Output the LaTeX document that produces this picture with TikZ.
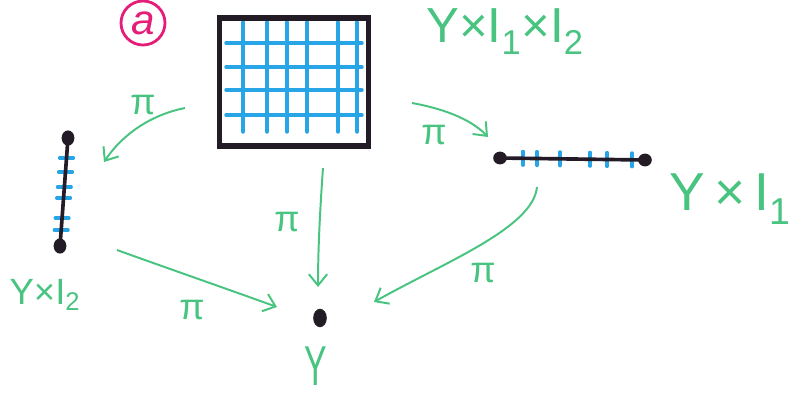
\documentclass[tikz,border=0pt]{standalone}
\usepackage{fontspec}
\setmainfont{Liberation Sans}
\usetikzlibrary{arrows.meta,positioning}
\definecolor{inkgreen}{RGB}{72,196,128}
\definecolor{inkblue}{RGB}{40,165,230}
\definecolor{inkblack}{RGB}{35,28,38}
\definecolor{inkpink}{RGB}{228,30,120}

\begin{document}
\begin{tikzpicture}[x=0.025cm,y=-0.025cm,
    proj/.style={draw=inkgreen,line width=1.4pt,-{Straight Barb[length=8pt,width=13pt,line width=1.4pt]}},
    pilab/.style={text=inkgreen,font=\fontsize{26}{30}\selectfont,inner sep=0pt},
    spacelab/.style={text=inkgreen,inner sep=0pt},
    gridline/.style={draw=inkblue,line width=2.4pt,line cap=round},
    tickline/.style={draw=inkblue,line width=2.2pt,line cap=round},
    segline/.style={draw=inkblack,line width=2.6pt}]
        \useasboundingbox (0,0) rectangle (792,403);
        % Tag
        \node[draw=inkpink,line width=2pt,circle,minimum size=1.1cm,inner sep=0pt,
              text=inkpink,font=\fontsize{30}{34}\selectfont\itshape] (tag) at (143,23) {a};
        % Square Y x I1 x I2
        \foreach \gy in {43,67,90,115}
            \draw[gridline] (226,\gy) -- (362,\gy);
        \foreach \gx in {243,267,287,307,338,357}
            \draw[gridline] (\gx,22) -- (\gx,132);
        \node[draw=inkblack,line width=4pt,minimum width=3.72cm,minimum height=3.2cm,inner sep=0pt] (prod) at (294,82) {};
        \node[spacelab,font=\fontsize{35}{40}\selectfont] (prodlab) at (505,32)
            {Y×I\textsubscript{1}×I\textsubscript{2}};
        % Segment Y x I2
        \coordinate (Itwo-a) at (68,138);
        \coordinate (Itwo-b) at (60,246);
        \foreach \ty in {158,172,187,198,218,230}
            \draw[tickline] ({68-8*(\ty-138)/108-7},\ty) -- ++(14,0);
        \draw[segline] (Itwo-a) -- (Itwo-b);
        \fill[inkblack] (Itwo-a) ellipse [x radius=0.16cm,y radius=0.19cm];
        \fill[inkblack] (Itwo-b) ellipse [x radius=0.16cm,y radius=0.19cm];
        \node[spacelab,font=\fontsize{26}{30}\selectfont] (Itwolab) at (45,295) {Y×I\textsubscript{2}};
        % Segment Y x I1
        \coordinate (Ione-a) at (500,158);
        \coordinate (Ione-b) at (645,160);
        \foreach \tx in {523,537,560,590,607,632}
            \draw[tickline] (\tx,{151+2*(\tx-500)/145}) -- ++(0,14);
        \draw[segline] (Ione-a) -- (Ione-b);
        \fill[inkblack] (Ione-a) ellipse [x radius=0.17cm,y radius=0.16cm];
        \fill[inkblack] (Ione-b) ellipse [x radius=0.17cm,y radius=0.16cm];
        \node[spacelab,font=\fontsize{38}{42}\selectfont] (Ionelab) at (730,199) {Y\,×\,I\textsubscript{1}};
        % Point Y
        \coordinate (base) at (320,318);
        \fill[inkblack] (base) ellipse [x radius=0.17cm,y radius=0.23cm];
        \node[spacelab,font=\fontsize{40}{44}\selectfont] (baselab) at (316,366) {\scalebox{0.6}[1]{Y}};
        % Arrow ends
        \coordinate (prod-l) at (185,108);
        \coordinate (Itwo-in) at (104,162);
        \coordinate (prod-r) at (412,103);
        \coordinate (Ione-in) at (488,137);
        \coordinate (prod-d) at (323,168);
        \coordinate (base-up) at (318,287);
        \coordinate (Itwo-out) at (117,250);
        \coordinate (base-l) at (277,307);
        \coordinate (Ione-out) at (537,187);
        \coordinate (base-r) at (374,302);
        % Projections
        \draw[proj] (prod-l) .. controls (150,115) and (122,135) .. (Itwo-in);
        \draw[proj] (prod-r) .. controls (440,108) and (470,118) .. (Ione-in);
        \draw[proj] (prod-d) .. controls (320,210) and (318,250) .. (base-up);
        \draw[proj] (Itwo-out) .. controls (150,262) and (230,290) .. (base-l);
        \draw[proj] (Ione-out) .. controls (533,228) and (445,262) .. (base-r);
        \node[pilab] (pi-l) at (143,105) {π};
        \node[pilab] (pi-r) at (434,135) {π};
        \node[pilab] (pi-d) at (287,222) {π};
        \node[pilab] (pi-bl) at (192,310) {π};
        \node[pilab] (pi-br) at (483,273) {π};
\end{tikzpicture}
\end{document}
